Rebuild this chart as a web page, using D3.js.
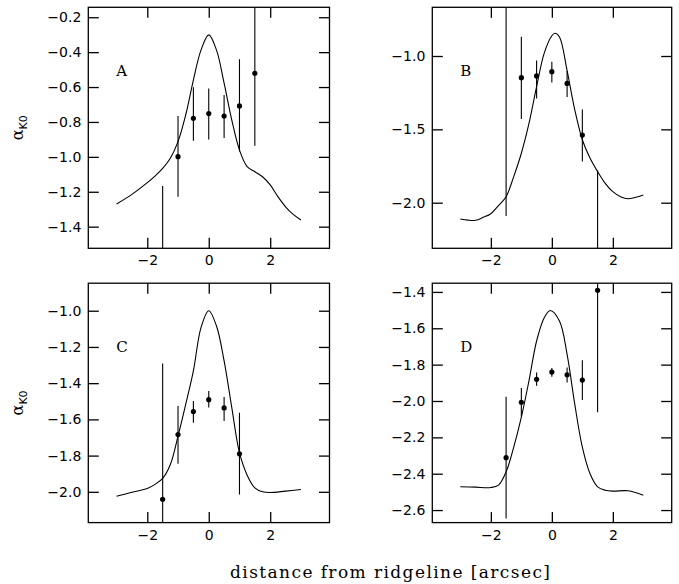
<!DOCTYPE html>
<html>
<head>
<meta charset="utf-8">
<script src="https://cdn.jsdelivr.net/npm/d3@7"></script>
<style>
  html, body { margin: 0; padding: 0; background: #fff; }
  svg { display: block; }
</style>
</head>
<body>
<svg id="chart" width="679" height="584"></svg>
<script>
// ---------- data ----------
const panelNames = ["A", "B", "C", "D"];
const xTicks = [-2, 0, 2];

const yTicksA = [-1.4, -1.2, -1.0, -0.8, -0.6, -0.4, -0.2];
const yTicksB = [-2.0, -1.5, -1.0];
const yTicksC = [-2.0, -1.8, -1.6, -1.4, -1.2, -1.0];
const yTicksD = [-2.6, -2.4, -2.2, -2.0, -1.8, -1.6, -1.4];

// model curves
const curveXA = [-3, -2.5, -2, -1.75, -1.5, -1.25, -1, -0.75, -0.5, -0.25, 0, 0.25, 0.5, 0.75, 1, 1.25, 1.5, 1.75, 2, 2.25, 2.5, 2.75, 3];
const curveYA = [-1.270, -1.215, -1.148, -1.110, -1.066, -1.008, -0.913, -0.760, -0.560, -0.387, -0.301, -0.387, -0.578, -0.789, -0.961, -1.056, -1.085, -1.114, -1.161, -1.228, -1.286, -1.330, -1.362];

const curveXB = [-3, -2.75, -2.5, -2.25, -2, -1.75, -1.5, -1.25, -1, -0.75, -0.5, -0.25, 0, 0.1, 0.25, 0.5, 0.75, 1, 1.25, 1.5, 1.75, 2, 2.25, 2.5, 2.75, 3];
const curveYB = [-2.111, -2.119, -2.120, -2.100, -2.075, -2.020, -1.959, -1.822, -1.663, -1.460, -1.209, -0.980, -0.862, -0.845, -0.870, -1.100, -1.365, -1.571, -1.696, -1.788, -1.868, -1.925, -1.959, -1.973, -1.963, -1.947];

const curveXC = [-3, -2.5, -2, -1.75, -1.5, -1.25, -1, -0.75, -0.5, -0.25, 0, 0.25, 0.5, 0.75, 1, 1.25, 1.5, 1.75, 2, 2.5, 3];
const curveYC = [-2.024, -2.002, -1.982, -1.959, -1.926, -1.849, -1.692, -1.517, -1.332, -1.092, -1.000, -1.083, -1.277, -1.535, -1.784, -1.908, -1.978, -2.000, -2.004, -1.996, -1.987];

const curveXD = [-3, -2.5, -2, -1.75, -1.5, -1.25, -1, -0.75, -0.5, -0.25, -0.05, 0.25, 0.5, 0.75, 1, 1.25, 1.5, 1.75, 2, 2.5, 3];
const curveYD = [-2.472, -2.474, -2.476, -2.463, -2.390, -2.254, -2.089, -1.889, -1.670, -1.542, -1.502, -1.560, -1.743, -2.016, -2.254, -2.399, -2.472, -2.491, -2.496, -2.494, -2.518];

// measured points with error bars (low / high bounds)
const ptX = [-1.5, -1, -0.5, 0, 0.5, 1, 1.5];
const ptYA  = [-1.75, -0.999, -0.779, -0.752, -0.766, -0.708, -0.521];
const ptLoA = [-2.33, -1.228, -0.907, -0.900, -0.892, -0.970, -0.936];
const ptHiA = [-1.167, -0.766, -0.601, -0.609, -0.645, -0.441, -0.106];

const ptYB  = [-0.50, -1.148, -1.136, -1.107, -1.187, -1.539, -2.60];
const ptLoB = [-2.090, -1.429, -1.290, -1.180, -1.279, -1.719, -3.42];
const ptHiB = [1.09, -0.868, -1.030, -1.039, -1.103, -1.365, -1.781];

const ptYC  = [-2.041, -1.684, -1.557, -1.491, -1.537, -1.790];
const ptLoC = [-2.790, -1.845, -1.618, -1.535, -1.609, -2.015];
const ptHiC = [-1.292, -1.526, -1.498, -1.443, -1.476, -1.563];

const ptYD  = [-2.312, -2.007, -1.881, -1.841, -1.856, -1.885, -1.391];
const ptLoD = [-2.646, -2.086, -1.916, -1.867, -1.898, -1.995, -2.062];
const ptHiD = [-1.976, -1.929, -1.843, -1.819, -1.816, -1.776, -0.720];

const xDomain = [-3.92, 3.93];
const yDomainA = [-1.524, -0.143];
const yDomainB = [-2.311, -0.668];
const yDomainC = [-2.170, -0.848];
const yDomainD = [-2.669, -1.352];

const xLabel = "distance from ridgeline [arcsec]";

// ---------- layout ----------
const panels = [
  { name: panelNames[0], left: 88.3, top: 7.3, w: 241.2, h: 241, yDomain: yDomainA, yTicks: yTicksA, fmt: ".1f",
    cx: curveXA, cy: curveYA, py: ptYA, lo: ptLoA, hi: ptHiA, ylab: true },
  { name: panelNames[1], left: 432.3, top: 7.3, w: 239.4, h: 241, yDomain: yDomainB, yTicks: yTicksB, fmt: ".1f",
    cx: curveXB, cy: curveYB, py: ptYB, lo: ptLoB, hi: ptHiB, ylab: false },
  { name: panelNames[2], left: 88.3, top: 283.2, w: 241.2, h: 239.4, yDomain: yDomainC, yTicks: yTicksC, fmt: ".1f",
    cx: curveXC, cy: curveYC, py: ptYC, lo: ptLoC, hi: ptHiC, ylab: true },
  { name: panelNames[3], left: 432.3, top: 283.2, w: 239.4, h: 239.4, yDomain: yDomainD, yTicks: yTicksD, fmt: ".1f",
    cx: curveXD, cy: curveYD, py: ptYD, lo: ptLoD, hi: ptHiD, ylab: false }
];

const svg = d3.select("#chart");
const tickFont = "'DejaVu Sans', sans-serif";
const serifFont = "'DejaVu Serif', serif";
const TL = 10.5;
const minus = s => s.replace("-", "\u2212");

panels.forEach((p, i) => {
  const g = svg.append("g").attr("transform", `translate(${p.left},${p.top})`);
  const x = d3.scaleLinear().domain(xDomain).range([0, p.w]);
  const y = d3.scaleLinear().domain(p.yDomain).range([p.h, 0]);

  const clipId = "clip" + i;
  g.append("clipPath").attr("id", clipId)
    .append("rect").attr("x", 0).attr("y", 0).attr("width", p.w).attr("height", p.h);

  const fmtY = v => minus(d3.format(p.fmt)(v));
  const fmtX = v => minus(d3.format("d")(v));

  const styleAxis = sel => {
    sel.select(".domain").remove();
    sel.selectAll(".tick line").attr("stroke", "#000").attr("stroke-width", 1.3);
    sel.selectAll(".tick text").attr("fill", "#000").attr("font-family", tickFont).attr("font-size", 14);
  };

  g.append("g").attr("transform", `translate(0,${p.h})`)
    .call(d3.axisBottom(x).tickValues(xTicks).tickSize(-TL).tickPadding(7).tickFormat(fmtX))
    .call(styleAxis);
  g.append("g")
    .call(d3.axisTop(x).tickValues(xTicks).tickSize(-TL).tickFormat(""))
    .call(styleAxis);
  g.append("g")
    .call(d3.axisLeft(y).tickValues(p.yTicks).tickSize(-TL).tickPadding(7).tickFormat(fmtY))
    .call(styleAxis);
  g.append("g").attr("transform", `translate(${p.w},0)`)
    .call(d3.axisRight(y).tickValues(p.yTicks).tickSize(-TL).tickFormat(""))
    .call(styleAxis);

  // frame
  g.append("rect").attr("x", 0).attr("y", 0).attr("width", p.w).attr("height", p.h)
    .attr("fill", "none").attr("stroke", "#000").attr("stroke-width", 1.3);

  const plot = g.append("g").attr("clip-path", `url(#${clipId})`);

  // model curve
  const line = d3.line().x(d => x(d[0])).y(d => y(d[1])).curve(d3.curveCatmullRom.alpha(0.5));
  plot.append("path").datum(p.cx.map((v, k) => [v, p.cy[k]]))
    .attr("d", line).attr("fill", "none").attr("stroke", "#000").attr("stroke-width", 1.1);

  // error bars
  const pts = p.py.map((v, k) => ({ x: ptX[k], y: v, lo: p.lo[k], hi: p.hi[k] }));
  plot.selectAll("line.err").data(pts).enter().append("line")
    .attr("x1", d => x(d.x)).attr("x2", d => x(d.x))
    .attr("y1", d => y(d.lo)).attr("y2", d => y(d.hi))
    .attr("stroke", "#000").attr("stroke-width", 1.1);
  plot.selectAll("circle").data(pts).enter().append("circle")
    .attr("cx", d => x(d.x)).attr("cy", d => y(d.y)).attr("r", 2.6).attr("fill", "#000");

  // panel letter
  g.append("text").attr("x", 28).attr("y", 69).text(p.name)
    .attr("font-family", serifFont).attr("font-size", 15).attr("fill", "#000");

  // y label
  if (p.ylab) {
    const t = svg.append("text")
      .attr("transform", `translate(23,${p.top + p.h / 2}) rotate(-90)`)
      .attr("text-anchor", "middle").attr("font-family", serifFont).attr("fill", "#000");
    t.append("tspan").attr("font-size", 16).text("\u03b1");
    t.append("tspan").attr("font-size", 11).attr("dy", 4).attr("font-family", tickFont).text("K0");
  }
});

svg.append("text").attr("x", 390).attr("y", 578).attr("text-anchor", "middle")
  .attr("font-family", serifFont).attr("font-size", 17).attr("fill", "#000")
  .attr("textLength", 320).attr("lengthAdjust", "spacing")
  .text(xLabel);
</script>
</body>
</html>
